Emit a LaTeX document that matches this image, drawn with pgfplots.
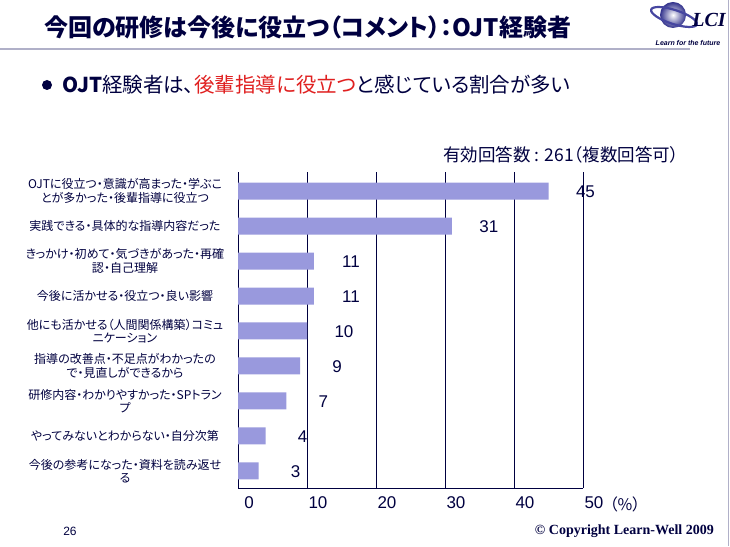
\documentclass[border=0pt]{standalone}
\usepackage{pgfplots}
\pgfplotsset{compat=1.18}
\usepackage{fontspec}
\setmainfont{Liberation Sans}
\newfontfamily\cjk[RawFeature={+palt}]{Noto Sans CJK JP}
\newfontfamily\serifb{Liberation Serif}
\definecolor{navy}{RGB}{0,0,64}
\definecolor{barc}{RGB}{153,153,221}
\definecolor{redt}{RGB}{224,32,32}
\definecolor{rule}{RGB}{176,176,200}
\definecolor{globe}{RGB}{50,50,140}
\definecolor{ring}{RGB}{70,70,160}
\begin{document}
\begin{tikzpicture}[x=1pt,y=1pt]
\useasboundingbox (0,0) rectangle (730,546);
\fill[white] (0,0) rectangle (730,546);
% right border
\draw[rule, line width=1pt] (728.5,0) -- (728.5,546);
% header rule
\draw[rule, line width=2pt] (0,497) -- (690,497);
% logo
\shade[inner color=white, outer color=globe] (673,531) circle (13);
\draw[ring, line width=2.2pt, rotate around={-18:(674,529)}] (674,529) ellipse (24 and 7);
\node[font=\serifb\bfseries\itshape\fontsize{20}{20}\selectfont, text=navy, inner sep=0] at (709,526) {LCI};
\node[font=\bfseries\itshape\fontsize{7}{7}\selectfont, text=navy, inner sep=0] at (688,503) {Learn for the future};
% title
\node[anchor=west, text=navy, font=\cjk\bfseries\fontsize{24}{26}\selectfont, inner sep=0] at (44,519) {今回の研修は今後に役立つ（コメント）：OJT経験者};
% subtitle
\fill[navy] (47,461) circle (5);
\node[anchor=west, font=\cjk\fontsize{20.5}{22}\selectfont, text=navy, inner sep=0] at (62,461) {{\bfseries OJT}経験者は、\textcolor{redt}{後輩指導に役立つ}と感じている割合が多い};
% response count
\node[anchor=east, font=\cjk\fontsize{17.5}{19}\selectfont, text=navy, inner sep=0] at (679,391) {有効回答数 : 261（複数回答可）};
% percent unit
\node[font=\cjk\fontsize{16}{18}\selectfont, text=navy, inner sep=0] at (625,42) {（\%）};
% footer
\node[font=\fontsize{12}{12}\selectfont, text=navy, inner sep=0] at (70,15) {26};
\node[anchor=east, font=\serifb\bfseries\fontsize{14}{14}\selectfont, text=navy, inner sep=0] at (714,15) {© Copyright Learn-Well 2009};
\begin{axis}[
  at={(238pt,58pt)}, anchor=south west,
  scale only axis, width=345pt, height=316pt,
  xbar, bar width=17pt,
  xmin=0, xmax=50, ymin=-0.486, ymax=8.543,
  axis x line*=bottom, axis y line*=left,
  axis line style={navy, line width=1pt},
  xmajorgrids, grid style={navy, line width=0.8pt},
  xtick={0,10,20,30,40,50},
  ytick={0,...,8},
  major tick length=0pt,
  /pgf/number format/assume math mode=true,
  xticklabel style={font=\fontsize{17}{17}\selectfont, text=navy, xshift=11pt, yshift=-5pt},
  yticklabel style={anchor=center, align=center, text width=230pt, xshift=-113pt, font=\cjk\fontsize{12}{13.5}\selectfont, text=navy},
  yticklabels={
    {今後の参考になった・資料を読み返せ\\る},
    {やってみないとわからない・自分次第},
    {研修内容・わかりやすかった・SPトラン\\プ},
    {指導の改善点・不足点がわかったの\\で・見直しができるから},
    {他にも活かせる（人間関係構築）コミュ\\ニケーション},
    {今後に活かせる・役立つ・良い影響},
    {きっかけ・初めて・気づきがあった・再確\\認・自己理解},
    {実践できる・具体的な指導内容だった},
    {OJTに役立つ・意識が高まった・学ぶこ\\とが多かった・後輩指導に役立つ}
  },
  nodes near coords,
  nodes near coords style={anchor=center, xshift=37pt, yshift=-1pt, font=\fontsize{17}{17}\selectfont, text=navy},
]
\addplot[fill=barc, draw=none] coordinates {(3,0) (4,1) (7,2) (9,3) (10,4) (11,5) (11,6) (31,7) (45,8)};
\end{axis}
\end{tikzpicture}
\end{document}
